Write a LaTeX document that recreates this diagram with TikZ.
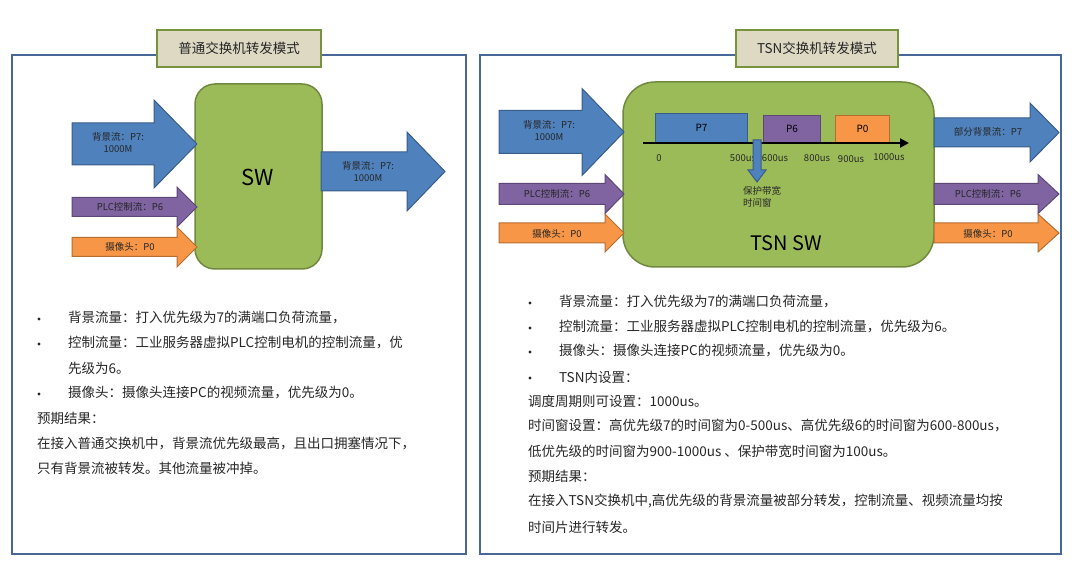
\documentclass[tikz,border=0pt]{standalone}
\usepackage{fontspec}
\setmainfont{Noto Sans CJK SC}
\usetikzlibrary{arrows.meta,positioning}
\definecolor{frameblue}{RGB}{72,104,152}
\definecolor{titlefill}{RGB}{221,217,195}
\definecolor{titleedge}{RGB}{119,147,60}
\definecolor{swgreen}{RGB}{155,187,89}
\definecolor{swedge}{RGB}{113,137,63}
\definecolor{pblue}{RGB}{79,129,189}
\definecolor{pblueedge}{RGB}{56,93,138}
\definecolor{ppurple}{RGB}{128,100,162}
\definecolor{ppurpleedge}{RGB}{92,71,118}
\definecolor{porange}{RGB}{247,150,70}
\definecolor{porangeedge}{RGB}{182,109,49}
\definecolor{bodytext}{RGB}{38,38,38}
% block arrow: style, x left, x head, x tip, y centre, half body, half head
\newcommand\flowarrow[7]{\draw[#1] (#2,#5-#6) -- (#3,#5-#6) -- (#3,#5-#7) -- (#4,#5)
  -- (#3,#5+#7) -- (#3,#5+#6) -- (#2,#5+#6) -- cycle;}

\begin{document}
\begin{tikzpicture}[x=1pt,y=-1pt,>=Stealth,
  panel/.style={draw=frameblue,line width=1.8pt},
  titlebox/.style={draw=titleedge,fill=titlefill,line width=1.8pt,minimum height=37pt,
    font=\fontsize{13.5}{16}\selectfont,text=bodytext},
  swbox/.style={draw=swedge,fill=swgreen,line width=1.5pt},
  bluearrow/.style={draw=pblueedge,fill=pblue,line width=1pt},
  purplearrow/.style={draw=ppurpleedge,fill=ppurple,line width=1pt},
  orangearrow/.style={draw=porangeedge,fill=porange,line width=1pt},
  flowlbl/.style={font=\fontsize{9.5}{12}\selectfont,align=center,inner sep=0pt,text=black!85},
  tick/.style={font=\fontsize{9.5}{11}\selectfont,inner sep=0pt,text=black!85},
  line/.style={font=\fontsize{13.5}{16}\selectfont,anchor=west,inner sep=0pt,text=bodytext},
  dot/.style={circle,fill=bodytext,inner sep=0pt,minimum size=3.2pt}]
\useasboundingbox (0,0) rectangle (1080,572);

% ---- left panel: normal switch
\draw[panel] (12,55) rectangle (466,554);
\node[titlebox,minimum width=164pt] (ltitle) at (239,48.5) {普通交换机转发模式};
\draw[swbox,rounded corners=20pt] (195,84) rectangle (322,269);
\node[font=\fontsize{22}{26}\selectfont] (sw) at (258,177) {SW};
\flowarrow{bluearrow}{72}{154}{197}{144}{21}{44}
\flowarrow{purplearrow}{72}{177}{197}{207}{9.5}{20}
\flowarrow{orangearrow}{72}{177}{197}{247}{9.5}{20}
\flowarrow{bluearrow}{321}{407}{445}{171.5}{19.5}{39.5}
\node[flowlbl] (lin7) at (118,143) {背景流：P7:\\1000M};
\node[flowlbl] (lin6) at (130,207) {PLC控制流：P6};
\node[flowlbl] (lin0) at (130,247) {摄像头：P0};
\node[flowlbl] (lout7) at (368,172) {背景流：P7:\\1000M};

\node[dot] (ld1) at (39,319) {};
\node[line] (lt1) at (68,318) {背景流量：打入优先级为7的满端口负荷流量，};
\node[dot] (ld2) at (39,344) {};
\node[line] (lt2) at (68,343) {控制流量：工业服务器虚拟PLC控制电机的控制流量，优};
\node[line] (lt3) at (68,368) {先级为6。};
\node[dot] (ld4) at (39,394) {};
\node[line] (lt4) at (68,393) {摄像头：摄像头连接PC的视频流量，优先级为0。};
\node[line] (lt5) at (37,418) {预期结果：};
\node[line] (lt6) at (37,443) {在接入普通交换机中，背景流优先级最高，且出口拥塞情况下，};
\node[line] (lt7) at (37,468) {只有背景流被转发。其他流量被冲掉。};

% ---- right panel: TSN switch
\draw[panel] (480,55) rectangle (1061,554);
\node[titlebox,minimum width=162pt] (rtitle) at (817,48.5) {TSN交换机转发模式};
\draw[swbox,rounded corners=32pt] (623,82) rectangle (934,267);
\node[font=\fontsize{20}{24}\selectfont] (tsnsw) at (786,243) {TSN SW};
\flowarrow{bluearrow}{499}{582}{624}{132}{21.5}{43.5}
\flowarrow{purplearrow}{499}{605}{624}{194}{10.5}{19.5}
\flowarrow{orangearrow}{499}{605}{624}{233}{10}{19}
\flowarrow{bluearrow}{934}{1030}{1059}{132.5}{14.5}{29.5}
\flowarrow{purplearrow}{934}{1038}{1059}{194}{10.5}{19.5}
\flowarrow{orangearrow}{934}{1038}{1059}{233}{10}{19}
\node[flowlbl] (rin7) at (549,131) {背景流：P7:\\1000M};
\node[flowlbl] (rin6) at (557,194) {PLC控制流：P6};
\node[flowlbl] (rin0) at (557,234) {摄像头：P0};
\node[flowlbl] (rout7) at (988,132) {部分背景流：P7};
\node[flowlbl] (rout6) at (988,194) {PLC控制流：P6};
\node[flowlbl] (rout0) at (988,234) {摄像头：P0};

% time slots
\node[bluearrow,minimum width=92pt,minimum height=29pt,anchor=south west,inner sep=0pt,
  font=\fontsize{10}{12}\selectfont] (slot7) at (655,143) {P7};
\node[purplearrow,minimum width=57pt,minimum height=27pt,anchor=south west,inner sep=0pt,
  font=\fontsize{10}{12}\selectfont] (slot6) at (763,143) {P6};
\node[orangearrow,minimum width=54pt,minimum height=27pt,anchor=south west,inner sep=0pt,
  font=\fontsize{10}{12}\selectfont] (slot0) at (835,143) {P0};
\coordinate (t0) at (643,143);
\coordinate (tend) at (909,143);
\draw[line width=2pt,-{Triangle[length=9pt,width=9pt]}] (t0) -- (tend);
\node[tick] (k0) at (659,158) {0};
\node[tick] (k500) at (743,158) {500us};
\node[tick] (k600) at (775,158) {600us};
\node[tick] (k800) at (817,158) {800us};
\node[tick] (k900) at (851,159) {900us};
\node[tick] (k1000) at (889,157) {1000us};
\draw[bluearrow] (753,140) -- (761,140) -- (761,170) -- (766,170) -- (757,182)
  -- (748,170) -- (753,170) -- cycle;
\node[flowlbl,align=left,anchor=north west] (guard) at (743,186) {保护带宽\\时间窗};

\node[dot] (rd1) at (530,303) {};
\node[line] (rt1) at (559,302) {背景流量：打入优先级为7的满端口负荷流量，};
\node[dot] (rd2) at (530,328) {};
\node[line] (rt2) at (559,327) {控制流量：工业服务器虚拟PLC控制电机的控制流量，优先级为6。};
\node[dot] (rd3) at (530,352) {};
\node[line] (rt3) at (559,351) {摄像头：摄像头连接PC的视频流量，优先级为0。};
\node[dot] (rd4) at (530,378) {};
\node[line] (rt4) at (559,377) {TSN内设置：};
\node[line] (rt5) at (528,401) {调度周期则可设置：1000us。};
\node[line] (rt6) at (528,426) {时间窗设置：高优先级7的时间窗为0-500us、高优先级6的时间窗为600-800us，};
\node[line] (rt7) at (528,451) {低优先级的时间窗为900-1000us 、保护带宽时间窗为100us。};
\node[line] (rt8) at (528,476) {预期结果：};
\node[line] (rt9) at (528,501) {在接入TSN交换机中,高优先级的背景流量被部分转发，控制流量、视频流量均按};
\node[line] (rt10) at (528,527) {时间片进行转发。};
\end{tikzpicture}
\end{document}
